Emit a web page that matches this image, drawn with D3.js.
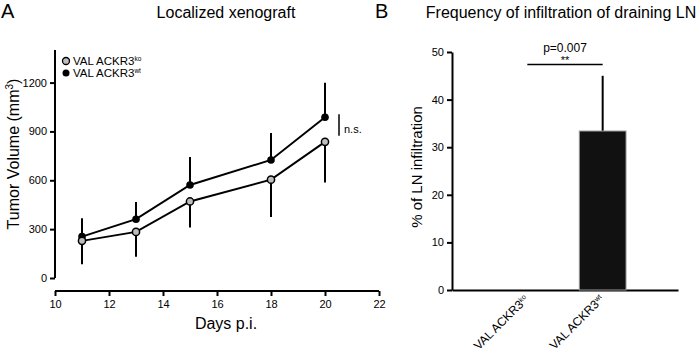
<!DOCTYPE html>
<html>
<head>
<meta charset="utf-8">
<script src="https://cdn.jsdelivr.net/npm/d3@7"></script>
<style>
  body { margin: 0; background: #fff; }
  svg { font-family: Arial, "Liberation Sans", sans-serif; color: #000; }
  .axis path, .axis line { stroke: #000; stroke-width: 2; }
  .axis text { font-size: 11px; fill: #000; }
</style>
</head>
<body>
<div id="chart"></div>
<script>
// data, panel A
const days = [11, 13, 15, 18, 20];
const koMean = [228, 283, 470, 604, 836];
const koErr = [144, 152, 160, 230, 249];
const wtMean = [254, 361, 571, 725, 987];
const wtErr = [113, 105, 172, 166, 212];
const xTicksA = [10, 12, 14, 16, 18, 20, 22];
const yTicksA = [0, 300, 600, 900, 1200];

// data, panel B
const groups = ["ko", "wt"];
const infiltration = [0, 33.4];
const infiltrationErr = [0, 11.6];
const yTicksB = [0, 10, 20, 30, 40, 50];

const width = 700, height = 356;
const svg = d3.select("#chart").append("svg")
  .attr("width", width).attr("height", height);

// ---------- panel A ----------
const xA = d3.scaleLinear().domain([10, 22]).range([55, 379]);
const yA = d3.scaleLinear().domain([0, 1400]).range([278, 50]);

svg.append("text").attr("x", 1).attr("y", 18).style("font-size", "20px").text("A");
svg.append("text").attr("x", 226).attr("y", 18).attr("text-anchor", "middle")
  .style("font-size", "16px").text("Localized xenograft");

const yAxisA = svg.append("g").attr("class", "axis")
  .attr("transform", "translate(55,0)")
  .call(d3.axisLeft(yA).tickValues(yTicksA).tickFormat(d3.format("d"))
    .tickSize(5).tickSizeOuter(0).tickPadding(3));
yAxisA.select(".domain").attr("d", `M0,${yA(0)}V${yA(1400)}`);

const xAxisA = svg.append("g").attr("class", "axis")
  .attr("transform", "translate(0,291)")
  .call(d3.axisBottom(xA).tickValues(xTicksA).tickSize(5).tickSizeOuter(0).tickPadding(4));
xAxisA.select(".domain").attr("d", `M${xA(10)},0H${xA(22)}`);

const yLabA = svg.append("text")
  .attr("transform", `translate(19,154) rotate(-90)`)
  .attr("text-anchor", "middle").style("font-size", "16px");
yLabA.append("tspan").text("Tumor Volume (mm");
yLabA.append("tspan").attr("dy", -6).style("font-size", "10px").text("3");
yLabA.append("tspan").attr("dy", 6).text(")");

svg.append("text").attr("x", 226).attr("y", 329).attr("text-anchor", "middle")
  .style("font-size", "16px").text("Days p.i.");

const ko = days.map((d, i) => ({ x: d, y: koMean[i], e: koErr[i] }));
const wt = days.map((d, i) => ({ x: d, y: wtMean[i], e: wtErr[i] }));

// error bars: wt upward, ko downward
svg.selectAll(".err-wt").data(wt).enter().append("line")
  .attr("x1", d => xA(d.x)).attr("x2", d => xA(d.x))
  .attr("y1", d => yA(d.y)).attr("y2", d => yA(d.y + d.e))
  .attr("stroke", "#000").attr("stroke-width", 2);
svg.selectAll(".err-ko").data(ko).enter().append("line")
  .attr("x1", d => xA(d.x)).attr("x2", d => xA(d.x))
  .attr("y1", d => yA(d.y)).attr("y2", d => yA(d.y - d.e))
  .attr("stroke", "#000").attr("stroke-width", 2);

const lineA = d3.line().x(d => xA(d.x)).y(d => yA(d.y));
[wt, ko].forEach(s => {
  svg.append("path").datum(s).attr("fill", "none")
    .attr("stroke", "#000").attr("stroke-width", 2).attr("d", lineA);
});

svg.selectAll(".dot-wt").data(wt).enter().append("circle")
  .attr("cx", d => xA(d.x)).attr("cy", d => yA(d.y)).attr("r", 3.8)
  .attr("fill", "#000");
svg.selectAll(".dot-ko").data(ko).enter().append("circle")
  .attr("cx", d => xA(d.x)).attr("cy", d => yA(d.y)).attr("r", 3.6)
  .attr("fill", "#bdbdbd").attr("stroke", "#000").attr("stroke-width", 1.5);

// n.s. bracket
svg.append("line").attr("x1", 339).attr("x2", 339)
  .attr("y1", yA(987) - 3).attr("y2", yA(836) - 6)
  .attr("stroke", "#000").attr("stroke-width", 1.5);
svg.append("text").attr("x", 344).attr("y", yA(912) + 4)
  .style("font-size", "11px").text("n.s.");

// legend
const legend = [
  { sup: "ko", fill: "#bdbdbd", stroke: "#000" },
  { sup: "wt", fill: "#000", stroke: "none" }
];
legend.forEach((l, i) => {
  const ly = 61 + i * 12;
  svg.append("circle").attr("cx", 66).attr("cy", ly).attr("r", 3.5)
    .attr("fill", l.fill).attr("stroke", l.stroke).attr("stroke-width", 1.3);
  const t = svg.append("text").attr("x", 73).attr("y", ly + 4).style("font-size", "11.5px");
  t.append("tspan").text("VAL ACKR3");
  t.append("tspan").attr("dy", -4).style("font-size", "6.5px").text(l.sup);
});

// ---------- panel B ----------
const xB = d3.scaleBand().domain(groups).range([452, 678])
  .paddingInner(0.38).paddingOuter(0.69);
const yB = d3.scaleLinear().domain([0, 50]).range([290, 52]);

svg.append("text").attr("x", 375).attr("y", 18).style("font-size", "20px").text("B");
svg.append("text").attr("x", 561).attr("y", 18).attr("text-anchor", "middle")
  .style("font-size", "16px").text("Frequency of infiltration of draining LN");

svg.append("g").attr("class", "axis")
  .attr("transform", "translate(452,0)")
  .call(d3.axisLeft(yB).tickValues(yTicksB).tickSize(5).tickSizeOuter(0).tickPadding(3));

svg.append("g").attr("class", "axis")
  .attr("transform", "translate(0,290)")
  .call(d3.axisBottom(xB).tickSize(0).tickSizeOuter(0).tickFormat(""));

svg.append("text")
  .attr("transform", `translate(422,167) rotate(-90)`)
  .attr("text-anchor", "middle").style("font-size", "15px")
  .text("% of LN infiltration");

const barData = groups.map((g, i) => ({ g, v: infiltration[i], e: infiltrationErr[i] }));

svg.selectAll(".err-b").data(barData.filter(d => d.e > 0)).enter().append("line")
  .attr("x1", d => xB(d.g) + xB.bandwidth() / 2).attr("x2", d => xB(d.g) + xB.bandwidth() / 2)
  .attr("y1", d => yB(d.v)).attr("y2", d => yB(d.v + d.e))
  .attr("stroke", "#000").attr("stroke-width", 2);

svg.selectAll(".bar").data(barData.filter(d => d.v > 0)).enter().append("rect")
  .attr("x", d => xB(d.g)).attr("width", xB.bandwidth())
  .attr("y", d => yB(d.v)).attr("height", d => yB(0) - yB(d.v))
  .attr("fill", "#111").attr("stroke", "#999").attr("stroke-width", 1);

// x category labels, rotated
barData.forEach(d => {
  const cx = xB(d.g) + xB.bandwidth() / 2;
  const t = svg.append("text")
    .attr("transform", `translate(${cx + 2},300) rotate(-45)`)
    .attr("text-anchor", "end").style("font-size", "12px");
  t.append("tspan").text("VAL ACKR3");
  t.append("tspan").attr("dy", -4).style("font-size", "7px").text(d.g);
});

// significance bracket
const cKo = xB("ko") + xB.bandwidth() / 2, cWt = xB("wt") + xB.bandwidth() / 2;
svg.append("line").attr("x1", cKo).attr("x2", cWt).attr("y1", 64.5).attr("y2", 64.5)
  .attr("stroke", "#000").attr("stroke-width", 1.5);
svg.append("text").attr("x", (cKo + cWt) / 2).attr("y", 52).attr("text-anchor", "middle")
  .style("font-size", "12px").text("p=0.007");
svg.append("text").attr("x", (cKo + cWt) / 2).attr("y", 64).attr("text-anchor", "middle")
  .style("font-size", "11px").text("**");
</script>
</body>
</html>
